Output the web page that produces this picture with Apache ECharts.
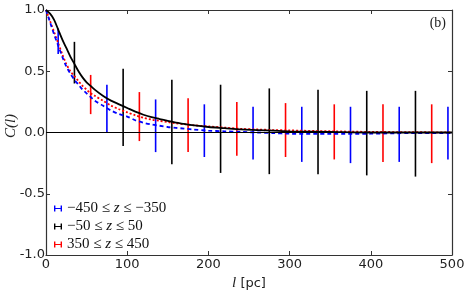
<!DOCTYPE html>
<html>
<head>
<meta charset="utf-8">
<script src="https://cdn.jsdelivr.net/npm/echarts@6/dist/echarts.min.js"></script>
<style>
  html, body { margin: 0; padding: 0; background: #fff; }
  #chart { width: 473px; height: 292px; }
</style>
</head>
<body>
<div id="chart"></div>
<script>
// correlation curves C(l)
const lagCurve = [0, 5, 10, 15, 20, 25, 30, 35, 40, 45, 50, 55, 60, 70, 80, 90, 100, 110, 120, 130, 140, 150, 160, 170, 180, 200, 220, 240, 260, 280, 300, 350, 400, 450, 500];
const blackCurve = [1, 0.97, 0.92, 0.84, 0.76, 0.69, 0.62, 0.56, 0.50, 0.45, 0.41, 0.38, 0.35, 0.30, 0.26, 0.23, 0.20, 0.17, 0.145, 0.125, 0.11, 0.095, 0.08, 0.07, 0.06, 0.045, 0.035, 0.025, 0.02, 0.015, 0.01, 0.005, 0.0, 0.0, 0.0];
const redCurve = [1, 0.91, 0.82, 0.73, 0.64, 0.56, 0.50, 0.46, 0.42, 0.38, 0.35, 0.32, 0.30, 0.26, 0.22, 0.19, 0.165, 0.14, 0.12, 0.105, 0.095, 0.085, 0.075, 0.068, 0.06, 0.05, 0.04, 0.03, 0.025, 0.02, 0.017, 0.01, 0.005, 0.003, 0.0];
const blueCurve = [1, 0.90, 0.80, 0.71, 0.62, 0.54, 0.48, 0.43, 0.39, 0.35, 0.32, 0.29, 0.26, 0.22, 0.18, 0.15, 0.13, 0.10, 0.08, 0.065, 0.055, 0.045, 0.038, 0.032, 0.025, 0.015, 0.01, 0.005, 0.0, -0.005, -0.01, -0.012, -0.01, -0.005, -0.005];

// error bars
const blueLag = [15, 75, 135, 195, 255, 315, 375, 435, 495];
const blueLow = [0.64, 0.0, -0.16, -0.20, -0.22, -0.24, -0.25, -0.24, -0.22];
const blueHigh = [0.85, 0.39, 0.27, 0.23, 0.21, 0.21, 0.21, 0.21, 0.21];
const blackLag = [35, 95, 155, 215, 275, 335, 395, 455];
const blackLow = [0.40, -0.11, -0.26, -0.33, -0.34, -0.34, -0.35, -0.36];
const blackHigh = [0.74, 0.52, 0.43, 0.39, 0.36, 0.35, 0.34, 0.34];
const redLag = [55, 115, 175, 235, 295, 355, 415, 475];
const redLow = [0.15, -0.07, -0.16, -0.19, -0.20, -0.22, -0.24, -0.25];
const redHigh = [0.47, 0.33, 0.28, 0.25, 0.24, 0.23, 0.23, 0.23];

const names = ['−450 ≤ z ≤ −350', '−50 ≤ z ≤ 50', '350 ≤ z ≤ 450'];
const barIcon = 'path://M0,0L1.4,0L1.4,6L0,6Z M1.4,2.4L6.6,2.4L6.6,3.6L1.4,3.6Z M6.6,0L8,0L8,6L6.6,6Z';

function zip(a, b) {
    return a.map((v, i) => [v, b[i]]);
}
function bars(lag, low, high) {
    return lag.map((v, i) => [v, low[i], high[i]]);
}
function errorBarSeries(name, color, data) {
    return {
        name: name,
        type: 'custom',
        itemStyle: { color: color },
        data: data,
        encode: { x: 0, y: [1, 2] },
        z: 2,
        renderItem: function (params, api) {
            const p1 = api.coord([api.value(0), api.value(1)]);
            const p2 = api.coord([api.value(0), api.value(2)]);
            return {
                type: 'line',
                shape: { x1: p1[0], y1: p1[1], x2: p2[0], y2: p2[1] },
                style: { stroke: color, lineWidth: 1.6 }
            };
        }
    };
}
function curveSeries(color, type, data, z) {
    return {
        type: 'line',
        data: data,
        showSymbol: false,
        smooth: 0.3,
        z: z,
        lineStyle: { color: color, width: 1.8, type: type },
        silent: true
    };
}

const frameLine = { show: true, onZero: false, lineStyle: { color: '#333', width: 1.2 } };
const frameTick = { show: true, inside: true, length: 4, lineStyle: { color: '#333' } };

const option = {
    animation: false,
    backgroundColor: '#fff',
    grid: { left: 46, right: 21, top: 10, bottom: 37, containLabel: false, outerBoundsMode: 'none' },
    xAxis: [
        {
            type: 'value', min: 0, max: 500, interval: 100,
            position: 'bottom',
            name: '{i|l} [pc]',
            nameLocation: 'middle',
            nameGap: 16,
            nameTextStyle: {
                fontFamily: 'DejaVu Sans', fontSize: 13, color: '#222',
                rich: { i: { fontFamily: 'Liberation Serif', fontStyle: 'italic', fontSize: 15, color: '#222' } }
            },
            axisLine: frameLine,
            axisTick: frameTick,
            axisLabel: { margin: 3, fontFamily: 'DejaVu Sans', fontSize: 13, color: '#222' },
            splitLine: { show: false }
        },
        {
            type: 'value', min: 0, max: 500, interval: 100,
            position: 'top',
            axisLine: frameLine,
            axisTick: frameTick,
            axisLabel: { show: false },
            splitLine: { show: false }
        }
    ],
    yAxis: [
        {
            type: 'value', min: -1, max: 1, interval: 0.5,
            position: 'left',
            axisLine: frameLine,
            axisTick: frameTick,
            axisLabel: {
                margin: 1, fontFamily: 'DejaVu Sans', fontSize: 13, color: '#222',
                formatter: v => v.toFixed(1)
            },
            splitLine: { show: false }
        },
        {
            type: 'value', min: -1, max: 1, interval: 0.5,
            position: 'right',
            axisLine: frameLine,
            axisTick: frameTick,
            axisLabel: { show: false },
            splitLine: { show: false }
        }
    ],
    legend: {
        orient: 'vertical',
        left: 49,
        top: 196,
        itemWidth: 8,
        itemHeight: 6,
        itemGap: 3,
        selectedMode: false,
        itemStyle: { borderWidth: 0 },
        data: names.map(n => ({ name: n, icon: barIcon })),
        formatter: function (name) {
            return name.split('z').join('{i|z}');
        },
        textStyle: {
            fontFamily: 'Liberation Serif', fontSize: 15, color: '#111',
            rich: { i: { fontFamily: 'Liberation Serif', fontStyle: 'italic', fontSize: 15, color: '#111' } }
        }
    },
    graphic: [
        {
            type: 'text', right: 27, top: 16,
            style: { text: '(b)', font: '14px "Liberation Serif"', fill: '#222' }
        },
        {
            // y axis title
            type: 'text', x: 11, y: 126, rotation: Math.PI / 2,
            style: {
                text: 'C(l)', font: 'italic 15px "Liberation Serif"', fill: '#222',
                align: 'center', verticalAlign: 'middle'
            }
        }
    ],
    series: [
        errorBarSeries(names[0], '#0000ff', bars(blueLag, blueLow, blueHigh)),
        errorBarSeries(names[1], '#000000', bars(blackLag, blackLow, blackHigh)),
        errorBarSeries(names[2], '#ff0000', bars(redLag, redLow, redHigh)),
        curveSeries('#ff0000', [2, 2], zip(lagCurve, redCurve), 3),
        curveSeries('#0000ff', [4, 3], zip(lagCurve, blueCurve), 4),
        Object.assign(curveSeries('#000000', 'solid', zip(lagCurve, blackCurve), 5), {
            markLine: {
                silent: true,
                symbol: 'none',
                label: { show: false },
                lineStyle: { color: '#000', width: 1.2, type: 'solid' },
                data: [{ yAxis: 0 }]
            }
        })
    ]
};

const chart = echarts.init(document.getElementById('chart'), null, { renderer: 'canvas' });
chart.setOption(option);
</script>
</body>
</html>
